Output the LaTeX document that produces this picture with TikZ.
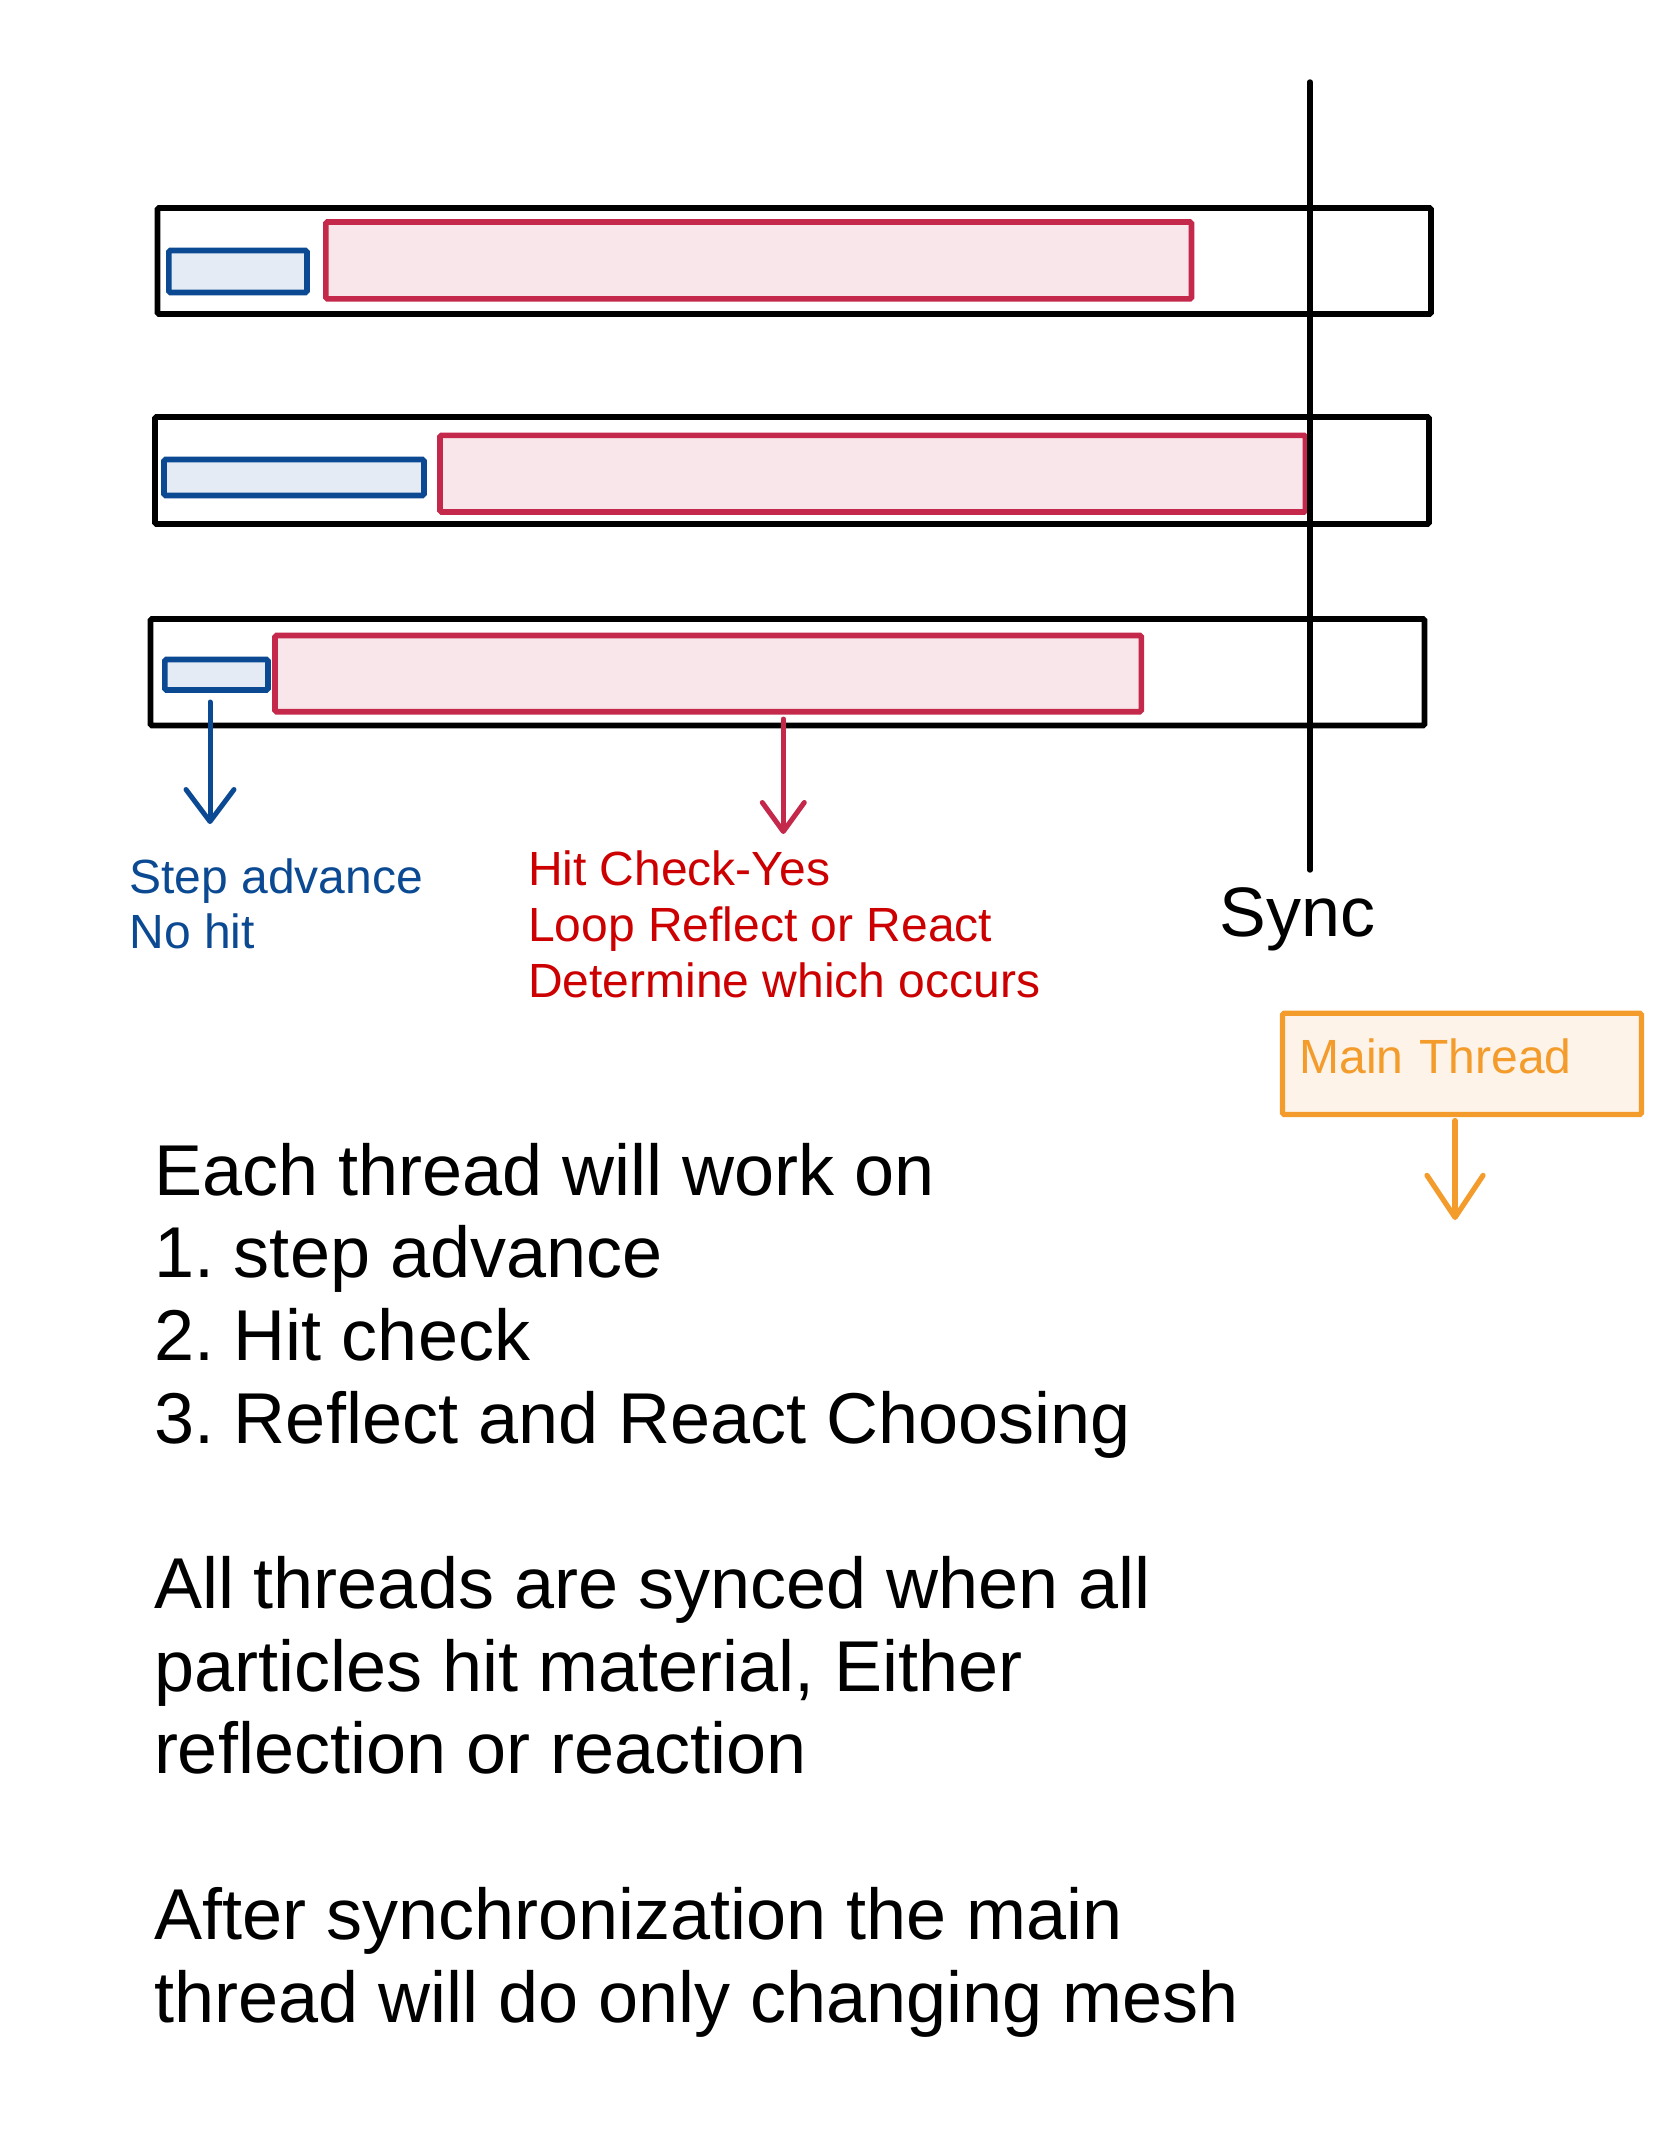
\documentclass[tikz,border=0pt]{standalone}
\usepackage{fontspec}
\setmainfont{Liberation Sans}
\usetikzlibrary{arrows.meta,fit}
\definecolor{bstroke}{HTML}{0B4A92}
\definecolor{bfill}{HTML}{E4EBF5}
\definecolor{rstroke}{HTML}{C4284A}
\definecolor{rfill}{HTML}{F9E6EA}
\definecolor{rtext}{HTML}{CC0000}
\definecolor{btext}{HTML}{0B4A92}
\definecolor{ostroke}{HTML}{F39C2C}
\definecolor{ofill}{HTML}{FEF3E8}
\frenchspacing
\begin{document}
\begin{tikzpicture}[x=1pt,y=-1pt,
  thread/.style={draw=black,line width=5.7pt,inner sep=0pt,outer sep=0pt,rounded corners=1.5pt},
  stepbox/.style={draw=bstroke,fill=bfill,line width=5.6pt,inner sep=0pt,outer sep=0pt,rounded corners=1.5pt},
  hitbox/.style={draw=rstroke,fill=rfill,line width=5.6pt,inner sep=0pt,outer sep=0pt,rounded corners=1.5pt},
  lbl/.style={anchor=base west,inner sep=0pt,outer sep=0pt},
  barrow/.style={draw=bstroke,line width=5pt,line cap=round,-{Straight Barb[length=32pt,width=48pt,round]}},
  rarrow/.style={draw=rstroke,line width=5pt,line cap=round,-{Straight Barb[length=29pt,width=42pt,round]}},
  oarrow/.style={draw=ostroke,line width=5.2pt,line cap=round,-{Straight Barb[length=42pt,width=56pt,round]}}
]
\useasboundingbox (0,0) rectangle (1668,2154);

% thread bars
\node[thread,fit={(157.5,208) (1431,314)}] (t1) {};
\node[thread,fit={(155,417) (1429,524)}] (t2) {};
\node[thread,fit={(150.5,619) (1424.5,725.5)}] (t3) {};

% step advance boxes
\node[stepbox,fit={(168.8,250.5) (307,292.5)}] (s1) {};
\node[stepbox,fit={(164,459.5) (424,495.5)}] (s2) {};
\node[stepbox,fit={(164.8,659.5) (268,690)}] (s3) {};

% hit check boxes
\node[hitbox,fit={(325.8,222) (1191.5,298.8)}] (h1) {};
\node[hitbox,fit={(440,435.4) (1305.5,512)}] (h2) {};
\node[hitbox,fit={(275,635.5) (1141.3,711.7)}] (h3) {};

% sync line
\coordinate (syncTop) at (1310,82);
\coordinate (syncBot) at (1310,870);
\draw[line width=5.4pt,line cap=round] (syncTop) -- (syncBot);

% arrows
\coordinate (stepFrom) at (210,702);
\coordinate (stepTip) at (210,824);
\draw[barrow] (stepFrom) -- (stepTip);
\coordinate (hitFrom) at (783.3,719);
\coordinate (hitTip) at (783.3,834);
\draw[rarrow] (hitFrom) -- (hitTip);

% labels
\node[lbl,text=btext] (steplbl) at (129.5,893)
  {\parbox[t]{500pt}{\fontsize{48pt}{55pt}\selectfont Step advance\\No hit}};
\node[lbl,text=rtext] (hitlbl) at (528,885)
  {\parbox[t]{700pt}{\fontsize{48pt}{56pt}\selectfont Hit Check-Yes\\Loop Reflect or React\\Determine which occurs}};
\node[lbl] (synclbl) at (1219.7,936.7) {\fontsize{70pt}{80pt}\selectfont Sync};

% main thread
\node[draw=ostroke,fill=ofill,line width=5.2pt,rounded corners=1.5pt,anchor=base west,
      inner xsep=17pt,inner ysep=0pt,outer sep=0pt,text width=325pt,align=left,
      text height=60pt,text depth=41.2pt,text=ostroke,
      font=\fontsize{48pt}{56pt}\selectfont] (main) at (1282.5,1073.3) {Main Thread};
\coordinate (mainTip) at (1455,1220);
\draw[oarrow] (main.south -| mainTip) ++(0,6) -- (mainTip);

% notes
\node[lbl] (notes) at (154,1195)
  {\parbox[t]{1450pt}{\fontsize{72pt}{82.7pt}\selectfont
   Each thread will work on\\
   1. step advance\\
   2. Hit check\\
   3. Reflect and React Choosing\\[82.7pt]
   All threads are synced when all\\
   particles hit material, Either\\
   reflection or reaction\\[82.7pt]
   After synchronization the main\\
   thread will do only changing mesh}};
\end{tikzpicture}
\end{document}
